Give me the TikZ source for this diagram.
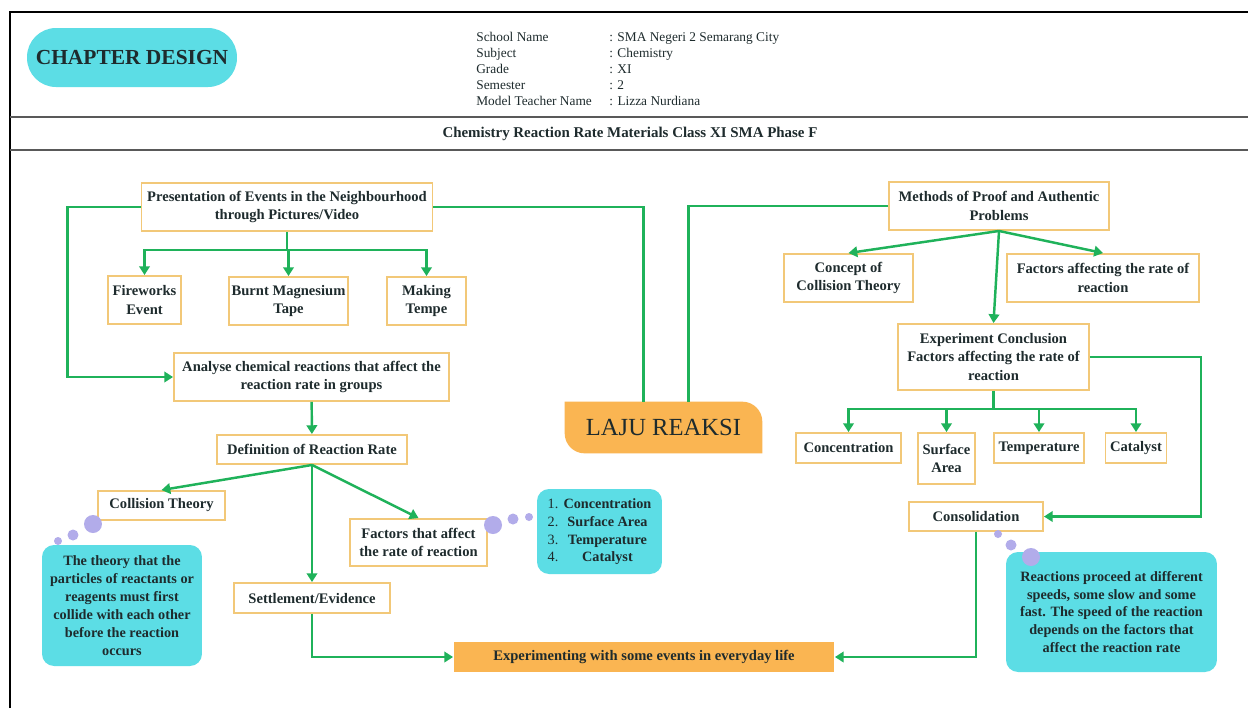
\documentclass[tikz,border=0pt]{standalone}
\usepackage{fontspec}
\setmainfont{Liberation Serif}
\usetikzlibrary{arrows.meta,backgrounds}
\definecolor{noteCyan}{HTML}{5CDDE5}
\definecolor{boxTan}{HTML}{F2C878}
\definecolor{flowGreen}{HTML}{1FB25A}
\definecolor{lajuOrange}{HTML}{FAB552}
\definecolor{dotLilac}{HTML}{B2ACEA}
\definecolor{inkDark}{HTML}{1E2B2D}

\begin{document}
\begin{tikzpicture}[x=0.02cm,y=-0.02cm,
    box/.style={draw=boxTan,fill=white,line width=1.1pt,align=center,inner sep=1pt,
    text=inkDark,font=\fontsize{8.3}{10.4}\selectfont\bfseries},
    note/.style={fill=noteCyan,rounded corners=0.24cm,align=center,inner sep=1pt,
    text=inkDark,font=\fontsize{8.1}{10.2}\selectfont\bfseries},
    link/.style={flowGreen,line width=1.4pt},
    flow/.style={link,-{Triangle[width=6pt,length=5pt]}},
    bead/.style={fill=dotLilac}]
    \useasboundingbox(0,0)rectangle(1248,708);
    \draw[line width=1.3pt](10,708)--(10,12)--(1248,12);
    \draw[black!65,line width=1pt](10,117)--(1248,117)(10,150)--(1248,150);
    \node[fill=noteCyan,rounded corners=0.58cm,minimum width=4.2cm,minimum height=1.18cm,
        text=inkDark,font=\fontsize{12.2}{14}\selectfont\bfseries](chap)at(132,57.5){CHAPTER DESIGN};
    \node[anchor=north west,inner sep=0pt,text=inkDark,font=\fontsize{7.6}{9.1}\selectfont](info)at(476,30){%
        \begin{tabular}{@{}p{2.66cm}@{}l@{}}School Name&: SMA Negeri 2 Semarang City\\Subject&: Chemistry\\
        Grade&: XI\\Semester&: 2\\Model Teacher Name&: Lizza Nurdiana\end{tabular}};
    \node[text=inkDark,font=\fontsize{8.5}{10}\selectfont\bfseries](title)at(630,134)
        {Chemistry Reaction Rate Materials Class XI SMA Phase F};
    % left branch
    \node[box,minimum width=5.82cm,minimum height=0.96cm](pres)at(287,207)
        {Presentation of Events in the Neighbourhood\\through Pictures/Video};
    \node[box,minimum width=1.46cm,minimum height=0.96cm](fire)at(144.5,300){Fireworks\\Event};
    \node[box,minimum width=2.38cm,minimum height=0.96cm](burnt)at(288.5,301){Burnt Magnesium\\Tape};
    \node[box,minimum width=1.58cm,minimum height=0.96cm](tempe)at(426.5,301){Making\\Tempe};
    \node[box,minimum width=5.5cm,minimum height=0.96cm](analyse)at(311.5,377)
        {Analyse chemical reactions that affect the\\reaction rate in groups};
    \node[box,minimum width=3.8cm,minimum height=0.58cm](defn)at(312,449.5){Definition of Reaction Rate};
    \node[box,minimum width=2.54cm,minimum height=0.58cm](coll)at(161.5,505.5){Collision Theory};
    \node[box,minimum width=2.74cm,minimum height=0.94cm](factors)at(418.5,542.5){Factors that affect\\the rate of reaction};
    \node[box,minimum width=3.12cm,minimum height=0.6cm](settle)at(312,598){Settlement/Evidence};
    \node[box,draw=none,fill=lajuOrange,minimum width=7.6cm,minimum height=0.6cm](expt)at(644,657)
        {Experimenting with some events in everyday life};
    \node[minimum width=3.94cm,minimum height=1.02cm,text=inkDark,
        font=\fontsize{14}{16}\selectfont](laju)at(663.5,427.5){LAJU REAKSI};
    % right branch
    \node[box,minimum width=4.4cm,minimum height=0.96cm](methods)at(999,206)
        {Methods of Proof and Authentic\\Problems};
    \node[box,minimum width=2.58cm,minimum height=0.96cm](concept)at(848.5,278){Concept of\\Collision Theory};
    \node[box,minimum width=3.84cm,minimum height=0.96cm](faffect)at(1103,278){Factors affecting the rate of\\reaction};
    \node[box,minimum width=3.82cm,minimum height=1.32cm](concl)at(993.5,357)
        {Experiment Conclusion\\Factors affecting the rate of\\reaction};
    \node[box,minimum width=2.1cm,minimum height=0.6cm](conc)at(848.5,448){Concentration};
    \node[box,minimum width=1.14cm,minimum height=1.02cm](surf)at(946.5,458.5){Surface\\Area};
    \node[box,minimum width=1.8cm,minimum height=0.6cm](temp)at(1039,448){Temperature};
    \node[box,minimum width=1.22cm,minimum height=0.6cm](cat)at(1136,448){Catalyst};
    \node[box,minimum width=2.68cm,minimum height=0.58cm](consol)at(976,516.5){Consolidation};
    % notes
    \node[note,minimum width=3.2cm,minimum height=2.42cm](theory)at(122,605.5){The theory that the\\particles of reactants or\\
        reagents must first\\collide with each other\\before the reaction\\occurs};
    \node[note,minimum width=2.5cm,minimum height=1.7cm](list)at(599.5,531.5){%
        \begin{tabular}{@{}l@{\hspace{3pt}}c@{}}\mdseries 1.&Concentration\\\mdseries 2.&Surface Area\\
        \mdseries 3.&Temperature\\\mdseries 4.&Catalyst\end{tabular}};
    \node[note,minimum width=4.22cm,minimum height=2.4cm](speed)at(1111.5,612){Reactions proceed at different\\
        speeds, some slow and some\\fast. The speed of the reaction\\depends on the factors that\\affect the reaction rate};
    \fill[bead](93,524)circle[radius=0.18cm](73,535)circle[radius=0.11cm](58,541)circle[radius=0.08cm];
    \fill[bead](493,525)circle[radius=0.18cm](513,519)circle[radius=0.11cm](529,517)circle[radius=0.08cm];
    \fill[bead](998,534)circle[radius=0.08cm](1011,545)circle[radius=0.11cm](1031,557)circle[radius=0.18cm];
    % connectors
    \draw[link](pres.south)--++(0,18)coordinate(pbar);
    \foreach \n in {fire,burnt,tempe}\draw[flow](pbar)-|(\n.north);
    \draw[flow](pres.west)--++(-73,0)|-(analyse.west);
    \draw[flow](analyse)--(defn);
    \foreach \n in {coll,settle,factors}\draw[flow](defn.south)--(\n.north);
    \draw[flow](settle.south)|-(expt.west);
    \draw[link](pres.east)-|([xshift=-0.4cm]laju.north);
    \draw[link](methods.west)-|([xshift=0.5cm]laju.north);
    \foreach \n in {concept,faffect,concl}\draw[flow](methods.south)--(\n.north);
    \draw[link](concl.south)--++(0,18)coordinate(cbar);
    \foreach \n in {conc,surf,temp,cat}\draw[flow](cbar)-|(\n.north);
    \draw[flow](concl.east)--++(111,0)|-(consol.east);
    \draw[flow](consol.south)|-(expt.east);
    \begin{scope}[on background layer]
        \fill[white](0,0)rectangle(1248,708);
        \fill[lajuOrange](laju.north west)--([xshift=-0.4cm]laju.north east)arc[start angle=90,end angle=0,radius=0.4cm]
            --(laju.south east)--([xshift=0.4cm]laju.south west)arc[start angle=270,end angle=180,radius=0.4cm]--cycle;
    \end{scope}
\end{tikzpicture}
\end{document}
